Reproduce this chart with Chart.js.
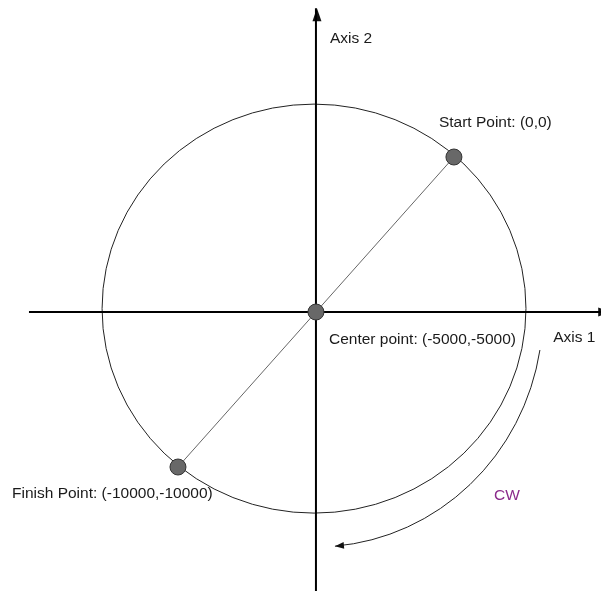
<!DOCTYPE html>
<html>
<head>
<meta charset="utf-8">
<script src="https://cdn.jsdelivr.net/npm/chart.js@4"></script>
<style>
  html, body { margin: 0; padding: 0; background: #fff; }
  #wrap { width: 601px; height: 600px; position: relative; }
</style>
</head>
<body>
<div id="wrap"><canvas id="diagram"></canvas></div>
<script>
// points of the move, in axis units
const pointNames = ["Start Point", "Center point", "Finish Point"];
const pointX = [0, -5000, -10000];
const pointY = [0, -5000, -10000];

// axis lines (Axis 1 horizontal, Axis 2 vertical), both through the center point
const axis1X = [-15400, 5700];
const axis2Y = [-14000, 4800];

// circle traced by the move
const circleCenter = [-5070, -4890];
const circleRadius = [7681, 6597];

// CW direction arc: radii and start / end angle (degrees)
const cwRadius = [8225, 7580];
const cwAngles = [9.3, 85.2];

const labelTexts = ["Axis 1", "Axis 2", "Start Point: (0,0)", "Center point: (-5000,-5000)", "Finish Point: (-10000,-10000)", "CW"];

// layout only: pixel offsets of each label from its anchor
const labelLayout = [
    { anchor: [axis1X[1], pointY[1]], dx: -58, dy: 30 },
    { anchor: [pointX[1], axis2Y[1]], dx: 14, dy: 35 },
    { anchor: [pointX[0], pointY[0]], dx: -15, dy: -30 },
    { anchor: [pointX[1], pointY[1]], dx: 13, dy: 32 },
    { anchor: [pointX[2], pointY[2]], dx: -166, dy: 31 },
    { anchor: [pointX[1], pointY[1]], dx: 178, dy: 188, color: "#8b2b8b" }
];

function arrowHead(ctx, x, y, angle, len, half) {
    ctx.save();
    ctx.translate(x, y);
    ctx.rotate(angle);
    ctx.beginPath();
    ctx.moveTo(0, 0);
    ctx.lineTo(-len, -half);
    ctx.lineTo(-len, half);
    ctx.closePath();
    ctx.fill();
    ctx.restore();
}

const diagramPlugin = {
    id: "diagram",
    beforeDatasetsDraw(chart) {
        const ctx = chart.ctx;
        const xs = chart.scales.x, ys = chart.scales.y;
        const px = v => xs.getPixelForValue(v);
        const py = v => ys.getPixelForValue(v);

        // circle
        const cx = px(circleCenter[0]), cy = py(circleCenter[1]);
        const rx = Math.abs(px(circleCenter[0] + circleRadius[0]) - cx);
        const ry = Math.abs(py(circleCenter[1] + circleRadius[1]) - cy);
        ctx.save();
        ctx.strokeStyle = "#222";
        ctx.lineWidth = 1;
        ctx.beginPath();
        ctx.ellipse(cx, cy, rx, ry, 0, 0, Math.PI * 2);
        ctx.stroke();

        // CW arc with arrow
        const ax = px(pointX[1]), ay = py(pointY[1]);
        const arx = Math.abs(px(pointX[1] + cwRadius[0]) - ax);
        const ary = Math.abs(py(pointY[1] + cwRadius[1]) - ay);
        const t0 = cwAngles[0] * Math.PI / 180, t1 = cwAngles[1] * Math.PI / 180;
        ctx.beginPath();
        ctx.ellipse(ax, ay, arx, ary, 0, t0, t1);
        ctx.stroke();
        ctx.fillStyle = "#111";
        const ex = ax + arx * Math.cos(t1), ey = ay + ary * Math.sin(t1);
        arrowHead(ctx, ex, ey, Math.atan2(ary * Math.cos(t1), -arx * Math.sin(t1)), 9, 3.5);

        // axis arrowheads
        arrowHead(ctx, px(axis1X[1]), py(pointY[1]), 0, 13, 4.5);
        arrowHead(ctx, px(pointX[1]) + 1, py(axis2Y[1]), -Math.PI / 2, 13, 4.5);
        ctx.restore();
    },
    afterDatasetsDraw(chart) {
        const ctx = chart.ctx;
        const xs = chart.scales.x, ys = chart.scales.y;
        ctx.save();
        ctx.font = "15.5px 'Liberation Sans', Arial, sans-serif";
        ctx.textBaseline = "alphabetic";
        labelTexts.forEach((t, i) => {
            const l = labelLayout[i];
            ctx.fillStyle = l.color || "#1a1a1a";
            ctx.fillText(t, xs.getPixelForValue(l.anchor[0]) + l.dx, ys.getPixelForValue(l.anchor[1]) + l.dy);
        });
        ctx.restore();
    }
};

new Chart(document.getElementById("diagram"), {
    type: "scatter",
    data: {
        datasets: [
            {
                label: "points",
                data: pointX.map((x, i) => ({ x: x, y: pointY[i] })),
                pointRadius: 8,
                pointBackgroundColor: "#686868",
                pointBorderColor: "#333",
                pointBorderWidth: 1
            },
            {
                label: "path",
                data: [{ x: pointX[0], y: pointY[0] }, { x: pointX[2], y: pointY[2] }],
                showLine: true,
                pointRadius: 0,
                borderColor: "#666",
                borderWidth: 1
            },
            {
                label: "Axis 1",
                data: axis1X.map(x => ({ x: x, y: pointY[1] })),
                showLine: true,
                pointRadius: 0,
                borderColor: "#000",
                borderWidth: 2
            },
            {
                label: "Axis 2",
                data: axis2Y.map(y => ({ x: pointX[1], y: y })),
                showLine: true,
                pointRadius: 0,
                borderColor: "#000",
                borderWidth: 2
            }
        ]
    },
    options: {
        responsive: true,
        maintainAspectRatio: false,
        animation: false,
        layout: { padding: 0, autoPadding: false },
        plugins: {
            legend: { display: false },
            tooltip: { enabled: false }
        },
        scales: {
            x: { type: "linear", display: false, min: -16450, max: 5330 },
            y: { type: "linear", display: false, min: -14290, max: 5065 }
        }
    },
    plugins: [diagramPlugin]
});
</script>
</body>
</html>
